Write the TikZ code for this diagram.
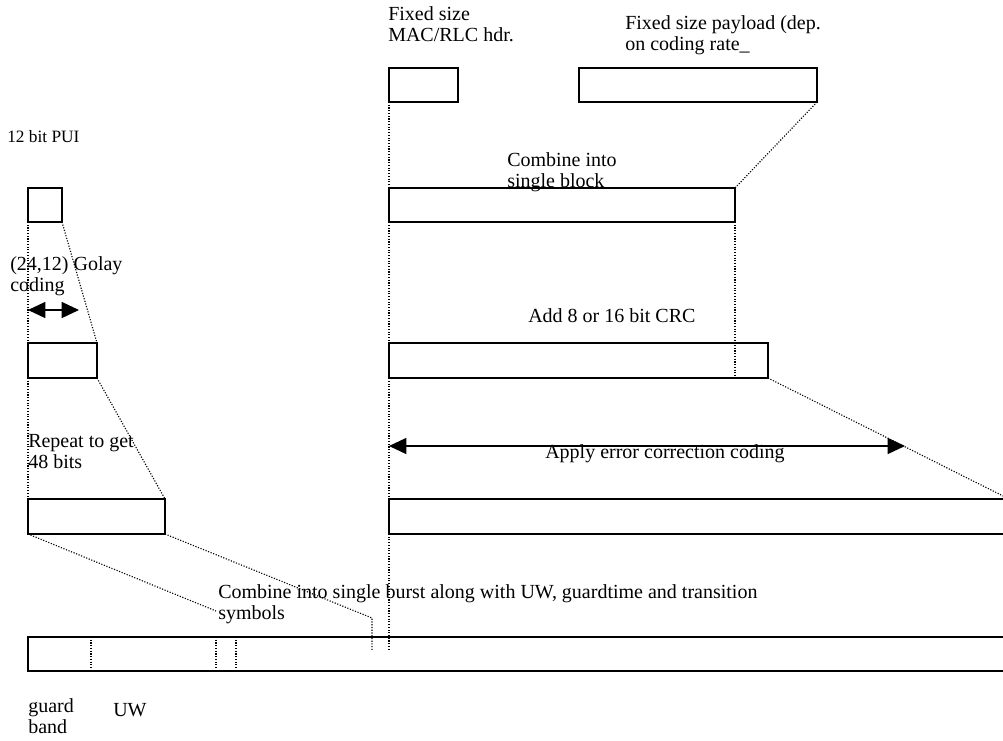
\documentclass[tikz,border=0pt]{standalone}
\usepackage{fontspec}
\setmainfont{Liberation Serif}
\usetikzlibrary{arrows.meta}

\tikzset{
  blk/.style 2 args={draw, line width=1.1pt, inner sep=0pt, outer sep=0pt,
    anchor=north west, minimum width=#1*0.75pt, minimum height=#2*0.75pt},
  dots/.style={line width=0.85pt, dash pattern=on 0.85pt off 1.2pt},
  lbl/.style={anchor=north west, inner sep=0pt, align=left,
    font=\fontsize{15}{15.9}\selectfont},
  span/.style={line width=1.1pt,
    {Triangle[length=13pt,width=12pt]}-{Triangle[length=13pt,width=12pt]}}
}

\begin{document}
\begin{tikzpicture}[x=0.75pt,y=-0.75pt]
\useasboundingbox (0,0) rectangle (1003,740);

% PUI branch
\node[blk={34}{34}] (pui) at (28,188) {};
\node[blk={69}{35}] (golay) at (28,343) {};
\node[blk={137}{35}] (rep) at (28,499) {};

% MAC/RLC branch
\node[blk={69}{34}] (mac) at (389,68) {};
\node[blk={238}{34}] (payload) at (579,68) {};
\node[blk={346}{34}] (comb) at (389,188) {};
\node[blk={379}{35}] (crc) at (389,343) {};
\node[blk={620}{35}] (ecc) at (389,499) {};

% burst
\node[blk={990}{34}] (burst) at (28,637) {};

\coordinate (repL) at (216,611);
\coordinate (repR) at (372,618);
\coordinate (repRend) at (372,651);
\coordinate (macend) at (389,651);
\coordinate (gA) at (28,310);
\coordinate (gB) at (79,310);
\coordinate (eA) at (389,446);
\coordinate (eB) at (905,446);

\draw[dots] (pui.south west)--(golay.north west);
\draw[dots] (pui.south east)--(golay.north east);
\draw[dots] (golay.south west)--(rep.north west);
\draw[dots] (golay.south east)--(rep.north east);
\draw[dots] (rep.south west)--(repL);
\draw[dots] (rep.south east)--(repR)--(repRend);

\draw[dots] (mac.south west)--(macend);
\draw[dots] (payload.south east)--(comb.north east);
\draw[dots] (comb.south east)--(comb.south east |- crc.south);
\draw[dots] (crc.south east)--(ecc.north east);

\foreach \x in {91,216,236}
  \draw[dots] (\x,637)--(\x,671);

\draw[span] (gA)--(gB);
\draw[span] (eA)--(eB);

\node[lbl,font=\fontsize{13}{15}\selectfont] (tpui) at (7,130) {12 bit PUI};
\node[lbl] (tgolay) at (10,256) {(24,12) Golay\\coding};
\node[lbl] (trep) at (28,434) {Repeat to get\\48 bits};
\node[lbl] (tmac) at (388,6) {Fixed size\\MAC/RLC hdr.};
\node[lbl] (tpay) at (625,15) {Fixed size payload (dep.\\on coding rate\_};
\node[lbl] (tcomb) at (507,152) {Combine into\\single block};
\node[lbl] (tcrc) at (528,308) {Add 8 or 16 bit CRC};
\node[lbl] (tecc) at (545,444) {Apply error correction coding};
\node[lbl] (tburst) at (218,584) {Combine into single burst along with UW, guardtime and transition\\symbols};
\node[lbl] (tguard) at (28,698) {guard\\band};
\node[lbl] (tuw) at (113,703) {UW};
\end{tikzpicture}
\end{document}
